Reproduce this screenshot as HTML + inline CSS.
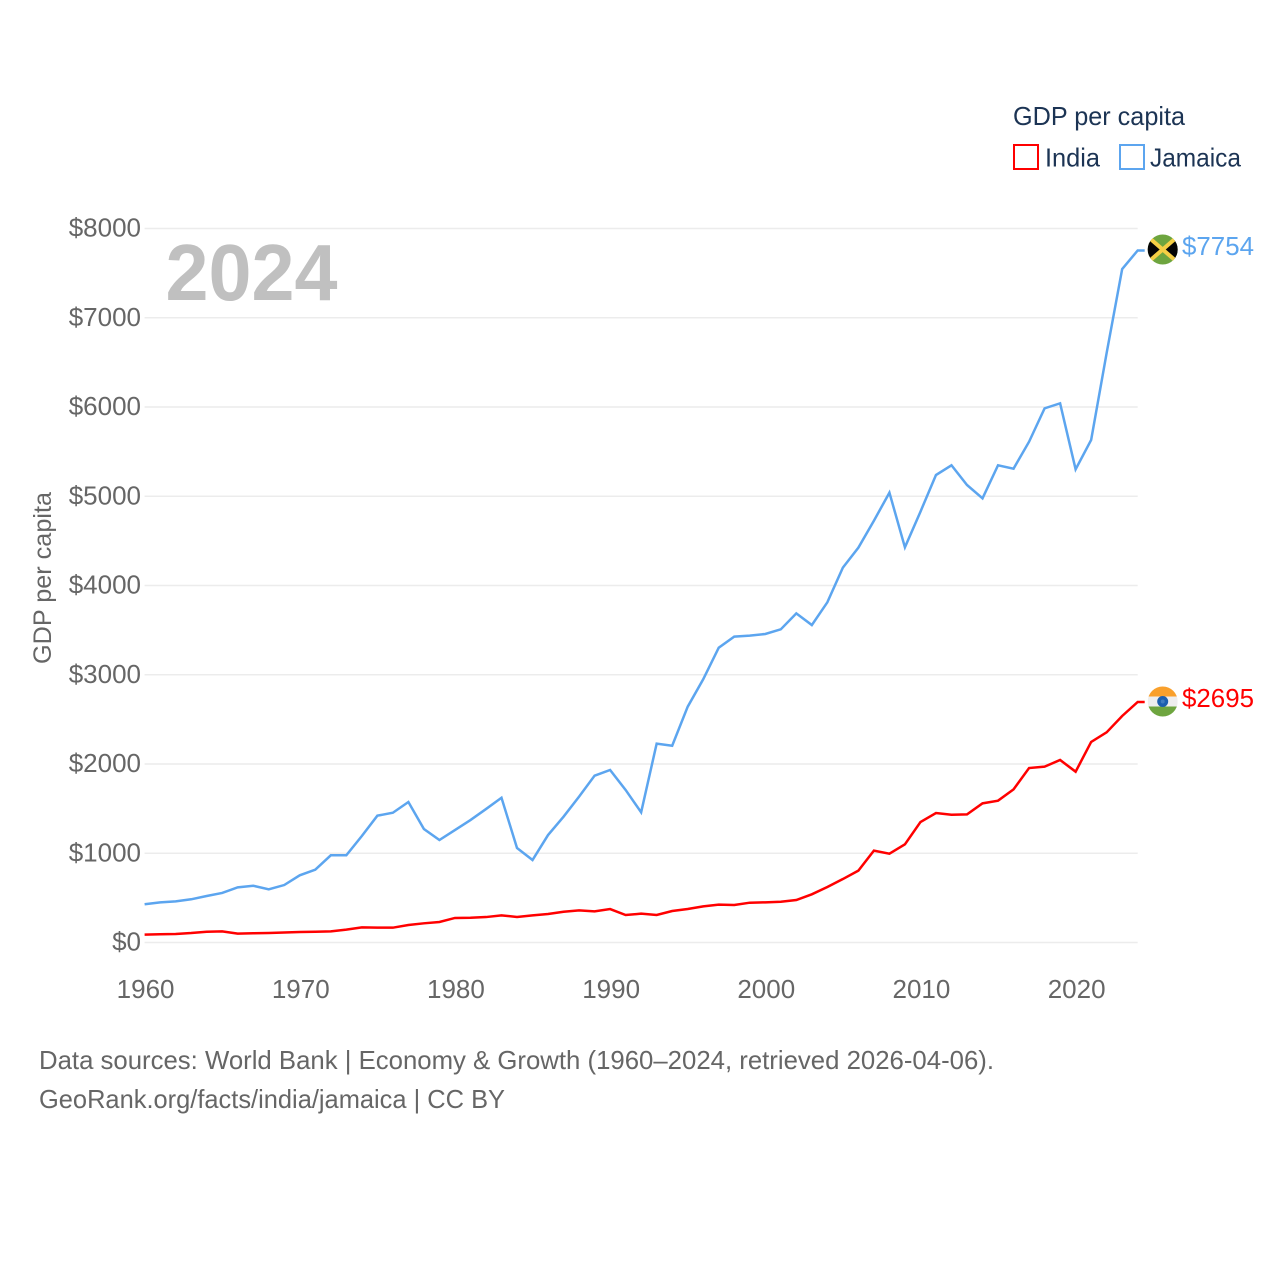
<!DOCTYPE html>
<html lang="en">
<head>
<meta charset="utf-8">
<title>GDP per capita: India and Jamaica</title>
<style>
html,body{margin:0;padding:0;background:#fff;}
#chart{display:block;width:1280px;height:1280px;font-family:"Liberation Sans",sans-serif;}
text{font-family:"Liberation Sans",sans-serif;}
</style>
</head>
<body>
<svg id="chart" xmlns="http://www.w3.org/2000/svg" width="1280" height="1280" viewBox="0 0 1280 1280">
  <rect x="0" y="0" width="1280" height="1280" fill="#ffffff"/>
  <g id="grid"></g>
  <g id="y-ticks"></g>
  <g id="x-ticks"></g>
  <text x="165.5" y="300" font-size="80" font-weight="700" fill="#c0c0c0" textLength="172" lengthAdjust="spacingAndGlyphs">2024</text>
  <text transform="translate(51,664) rotate(-90)" font-size="25" fill="#666666" textLength="172" lengthAdjust="spacingAndGlyphs">GDP per capita</text>
  <g id="series"></g>
  <clipPath id="clip-jm"><circle id="clip-jm-c" cx="1163" cy="250" r="15"/></clipPath>
  <clipPath id="clip-in"><circle id="clip-in-c" cx="1163" cy="702" r="15"/></clipPath>
  <g id="flag-jamaica" clip-path="url(#clip-jm)" transform="translate(-0.3,-0.5)">
    <rect x="1148" y="235" width="30" height="30" fill="#6ea53f"/>
    <path d="M1146 237L1163 250L1146 263Z M1180 237L1163 250L1180 263Z" fill="#050505"/>
    <path d="M1148 237L1178 263M1178 237L1148 263" stroke="#f5cf45" stroke-width="4"/>
  </g>
  <g id="flag-india" clip-path="url(#clip-in)" transform="translate(-0.3,-0.5)">
    <rect x="1148" y="687" width="30" height="10" fill="#f9a02c"/>
    <rect x="1148" y="697" width="30" height="10" fill="#eeeeee"/>
    <rect x="1148" y="707" width="30" height="10" fill="#6ea53f"/>
    <circle cx="1163" cy="702" r="5.5" fill="#1c5fae"/>
    <circle cx="1163" cy="702" r="2" fill="#3f7cc0"/>
  </g>
  <text id="value-jamaica" x="1182" y="255" font-size="26" fill="#5ca5ef" textLength="72" lengthAdjust="spacingAndGlyphs">$7754</text>
  <text id="value-india" x="1182" y="707" font-size="26" fill="#ff0000" textLength="72" lengthAdjust="spacingAndGlyphs">$2695</text>
  <g>
    <text x="1013" y="125" font-size="26" fill="#1c3454" textLength="172" lengthAdjust="spacingAndGlyphs">GDP per capita</text>
    <rect x="1014" y="145" width="24" height="24" fill="none" stroke="#ff0000" stroke-width="2"/>
    <text x="1045" y="166.5" font-size="26" fill="#1c3454" textLength="55" lengthAdjust="spacingAndGlyphs">India</text>
    <rect x="1120" y="145" width="24" height="24" fill="none" stroke="#5ca5ef" stroke-width="2"/>
    <text x="1150" y="166.5" font-size="26" fill="#1c3454" textLength="91" lengthAdjust="spacingAndGlyphs">Jamaica</text>
  </g>
  <text x="39" y="1069" font-size="26" fill="#666666" textLength="955" lengthAdjust="spacingAndGlyphs">Data sources: World Bank | Economy &amp; Growth (1960–2024, retrieved 2026-04-06).</text>
  <text x="39" y="1108" font-size="26" fill="#666666" textLength="466" lengthAdjust="spacingAndGlyphs">GeoRank.org/facts/india/jamaica | CC BY</text>
</svg>
<script>
const startYear = 1960;
const yTickValues = [0, 1000, 2000, 3000, 4000, 5000, 6000, 7000, 8000];
const yTickLabels = ["$0", "$1000", "$2000", "$3000", "$4000", "$5000", "$6000", "$7000", "$8000"];
const xTickValues = [1960, 1970, 1980, 1990, 2000, 2010, 2020];
const xTickLabels = ["1960", "1970", "1980", "1990", "2000", "2010", "2020"];
const jamaicaValues = [428, 450, 461, 484, 521, 555, 618, 636, 596, 644, 753, 816, 977, 977, 1193, 1421, 1454, 1574, 1272, 1148, 1260, 1372, 1495, 1622, 1059, 924, 1204, 1410, 1634, 1869, 1933, 1709, 1459, 2228, 2205, 2642, 2949, 3303, 3427, 3438, 3457, 3509, 3688, 3557, 3812, 4200, 4424, 4726, 5040, 4428, 4827, 5238, 5347, 5126, 4977, 5347, 5309, 5611, 5985, 6041, 5302, 5630, 6606, 7546, 7754];
const indiaValues = [88, 92, 95, 106, 121, 125, 99, 103, 106, 112, 118, 121, 125, 144, 170, 166, 166, 196, 215, 230, 275, 278, 285, 304, 286, 304, 319, 345, 360, 349, 375, 308, 323, 308, 353, 375, 405, 424, 420, 446, 450, 457, 476, 540, 622, 711, 805, 1029, 995, 1100, 1350, 1451, 1432, 1436, 1559, 1589, 1716, 1955, 1970, 2045, 1914, 2247, 2355, 2538, 2695];

const NS = "http://www.w3.org/2000/svg";
function xScale(year) { return 144.6 + (year - 1960) * 15.517; }
function yScale(value) { return 942.5 - value * 0.08925; }
function makeSvg(tag) { return document.createElementNS(NS, tag); }

const gridGroup = document.getElementById("grid");
const yTickGroup = document.getElementById("y-ticks");
const xTickGroup = document.getElementById("x-ticks");
const seriesGroup = document.getElementById("series");
const lastYear = startYear + jamaicaValues.length - 1;

yTickValues.forEach(function (value, i) {
  const line = makeSvg("line");
  
  
  line.setAttribute("x1", xScale(startYear));
  line.setAttribute("x2", xScale(lastYear));
  line.setAttribute("y1", yScale(value));
  line.setAttribute("y2", yScale(value));
  line.setAttribute("stroke", "#ececec");
  line.setAttribute("stroke-width", "1.5");
  gridGroup.appendChild(line);

  const label = makeSvg("text");
  
  
  label.setAttribute("x", 141);
  label.setAttribute("y", yScale(value) + 8);
  label.setAttribute("text-anchor", "end");
  label.setAttribute("font-size", "26");
  label.setAttribute("fill", "#666666");
  label.textContent = yTickLabels[i];
  yTickGroup.appendChild(label);
});

xTickValues.forEach(function (year, i) {
  const label = makeSvg("text");
  
  
  label.setAttribute("x", xScale(year) + 1);
  label.setAttribute("y", 998);
  label.setAttribute("text-anchor", "middle");
  label.setAttribute("font-size", "26");
  label.setAttribute("fill", "#666666");
  label.textContent = xTickLabels[i];
  xTickGroup.appendChild(label);
});

function linePoints(values) {
  const pts = values.map(function (v, i) {
    return xScale(startYear + i).toFixed(2) + "," + yScale(v).toFixed(2);
  });
  pts.push((xScale(lastYear) + 7).toFixed(2) + "," + yScale(values[values.length - 1]).toFixed(2));
  return pts.join(" ");
}

const jamaicaLine = makeSvg("polyline");


jamaicaLine.setAttribute("points", linePoints(jamaicaValues));
jamaicaLine.setAttribute("fill", "none");
jamaicaLine.setAttribute("stroke", "#5ca5ef");
jamaicaLine.setAttribute("stroke-width", "2.5");
seriesGroup.appendChild(jamaicaLine);

const indiaLine = makeSvg("polyline");


indiaLine.setAttribute("points", linePoints(indiaValues));
indiaLine.setAttribute("fill", "none");
indiaLine.setAttribute("stroke", "#ff0000");
indiaLine.setAttribute("stroke-width", "2.5");
seriesGroup.appendChild(indiaLine);
</script>
</body>
</html>
